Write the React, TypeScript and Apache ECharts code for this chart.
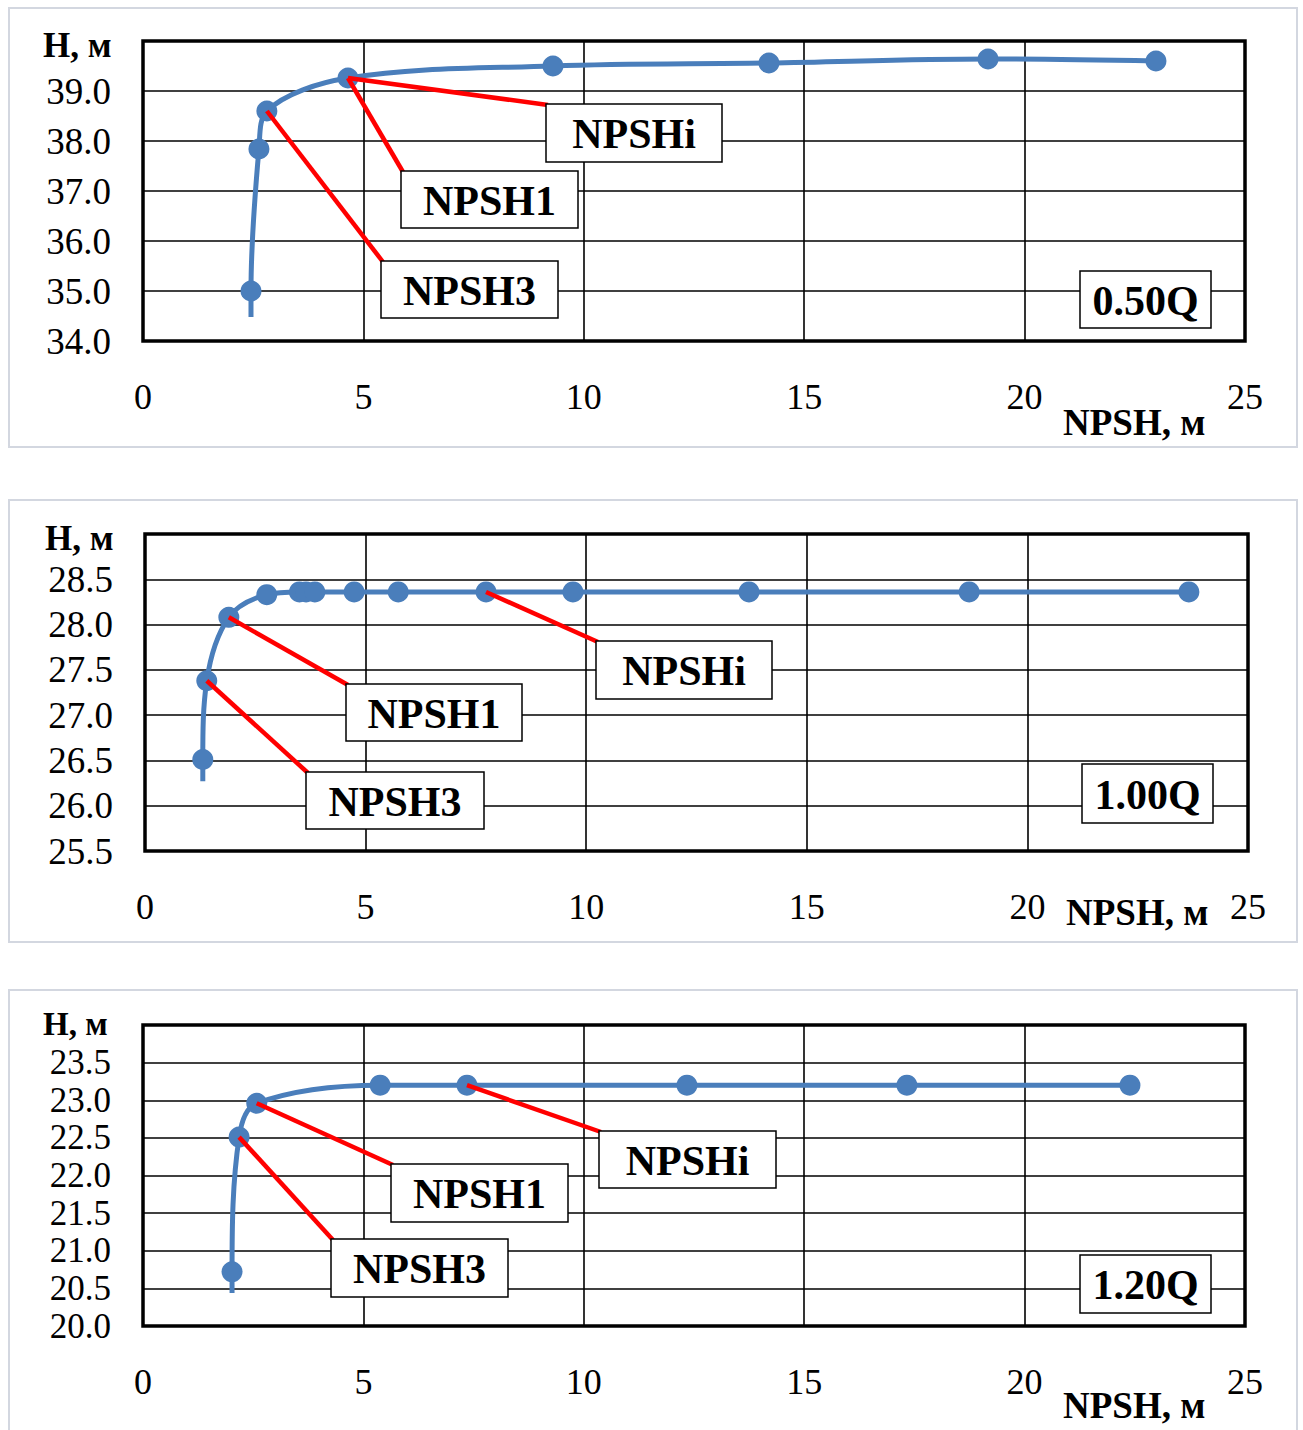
import React, { useEffect, useRef } from "react";
import * as echarts from "echarts";

// ---- data ----
const xTicks = [0, 5, 10, 15, 20, 25];

const q050X = [2.45, 2.45, 2.63, 2.81, 4.65, 9.3, 14.2, 19.17, 22.98];
const q050H = [34.48, 35.0, 37.84, 38.6, 39.26, 39.5, 39.56, 39.64, 39.6];

const q100X = [1.31, 1.31, 1.4, 1.9, 2.76, 3.5, 3.65, 3.85, 4.74, 5.74, 7.73, 9.7, 13.69, 18.68, 23.66];
const q100H = [26.27, 26.51, 27.38, 28.08, 28.33, 28.36, 28.36, 28.36, 28.36, 28.36, 28.36, 28.36, 28.36, 28.36, 28.36];

const q120X = [2.02, 2.02, 2.18, 2.58, 5.38, 7.35, 12.34, 17.33, 22.39];
const q120H = [20.44, 20.72, 22.51, 22.96, 23.2, 23.2, 23.2, 23.2, 23.2];

const flowLabels = ["0.50Q", "1.00Q", "1.20Q"];
const yMins = [34, 25.5, 20];
const yMaxs = [40, 29, 24];
const yIntervals = [1, 0.5, 0.5];

// annotation: which data point each label refers to (index into the arrays)
const annoLabels = ["NPSHi", "NPSH1", "NPSH3"];
const annoPointIdx = [
  [4, 4, 3],
  [10, 3, 2],
  [5, 3, 2],
];

// ---- layout ----
const FONT = "'Liberation Serif', 'Times New Roman', serif";
const grids = [
  { left: 143, top: 41, width: 1102, height: 300 },
  { left: 145, top: 534, width: 1103, height: 317 },
  { left: 143, top: 1025, width: 1102, height: 301 },
];
const frames = [
  [9, 8, 1288, 439],
  [9, 500, 1288, 442],
  [9, 990, 1288, 450],
];
// boxes [x, y, w, h] for NPSHi, NPSH1, NPSH3
const annoBoxes = [
  [[546, 104, 176, 58], [401, 171, 177, 57], [381, 261, 177, 57]],
  [[596, 641, 176, 58], [346, 684, 176, 57], [306, 772, 178, 57]],
  [[599, 1131, 177, 57], [391, 1164, 177, 58], [331, 1239, 177, 58]],
];
const flowBoxes = [
  [1080, 271, 131, 57],
  [1082, 764, 131, 59],
  [1080, 1255, 131, 58],
];
const hLabelPos = [[43, 45], [45, 538], [43, 1024]];
const npshLabelPos = [[1063, 422], [1066, 912], [1063, 1405]];

const BLUE = "#4a7ebb";

export default function App() {
  const ref = useRef<HTMLDivElement>(null);

  useEffect(() => {
    if (!ref.current) return;
    const chart = echarts.init(ref.current, null, { renderer: "svg" });

    const xs = [q050X, q100X, q120X];
    const hs = [q050H, q100H, q120H];

    const graphic: any[] = [];
    frames.forEach((f) => {
      graphic.push({
        type: "rect",
        shape: { x: f[0], y: f[1], width: f[2], height: f[3] },
        style: { fill: "none", stroke: "#d3d7e0", lineWidth: 2 },
        z: 1,
        silent: true,
      });
    });

    const boxText = (x: number, y: number, w: number, h: number, text: string, size: number) => {
      graphic.push({
        type: "rect",
        shape: { x, y, width: w, height: h },
        style: { fill: "#fff", stroke: "#000", lineWidth: 1.5 },
        z: 100,
        silent: true,
      });
      graphic.push({
        type: "text",
        x: x + w / 2,
        y: y + h / 2 + 1,
        style: {
          text,
          font: `bold ${size}px ${FONT}`,
          fill: "#000",
          textAlign: "center",
          textVerticalAlign: "middle",
          align: "center",
          verticalAlign: "middle",
        },
        z: 101,
        silent: true,
      });
    };

    const plainText = (x: number, y: number, text: string, size: number) => {
      graphic.push({
        type: "text",
        x,
        y,
        style: {
          text,
          font: `bold ${size}px ${FONT}`,
          fill: "#000",
          textAlign: "left",
          textVerticalAlign: "middle",
          align: "left",
          verticalAlign: "middle",
        },
        z: 101,
        silent: true,
      });
    };

    const series: any[] = [];
    for (let p = 0; p < 3; p++) {
      const data = xs[p].map((x, i) =>
        i === 0 ? { value: [x, hs[p][i]], symbol: "none" } : { value: [x, hs[p][i]] }
      );
      const mlData = annoLabels.map((_, k) => {
        const idx = annoPointIdx[p][k];
        const b = annoBoxes[p][k];
        return [{ coord: [xs[p][idx], hs[p][idx]] }, { x: b[0] + 2, y: b[1] + 1 }];
      });
      series.push({
        type: "line",
        xAxisIndex: p,
        yAxisIndex: p,
        data,
        smooth: 0.35,
        symbol: "circle",
        symbolSize: 21,
        showSymbol: true,
        lineStyle: { color: BLUE, width: 5 },
        itemStyle: { color: BLUE },
        z: 5,
        silent: true,
        markLine: {
          silent: true,
          symbol: ["none", "none"],
          label: { show: false },
          lineStyle: { color: "#ff0000", width: 4.5, type: "solid" },
          data: mlData,
          z: 6,
        },
      });

      annoLabels.forEach((lab, k) => {
        const b = annoBoxes[p][k];
        boxText(b[0], b[1], b[2], b[3], lab, 42);
      });
      const fb = flowBoxes[p];
      boxText(fb[0], fb[1], fb[2], fb[3], flowLabels[p], 42);
      plainText(hLabelPos[p][0], hLabelPos[p][1], "H, м", p === 2 ? 33 : 35);
      plainText(npshLabelPos[p][0], npshLabelPos[p][1], "NPSH, м", 37);
    }

    const option: any = {
      animation: false,
      backgroundColor: "#ffffff",
      grid: grids.map((g) => ({
        ...g,
        show: true,
        borderColor: "#000",
        borderWidth: 3.5,
        backgroundColor: "transparent",
        containLabel: false,
        outerBoundsMode: "none",
      })),
      xAxis: grids.map((_, p) => ({
        type: "value",
        gridIndex: p,
        min: xTicks[0],
        max: xTicks[xTicks.length - 1],
        interval: xTicks[1] - xTicks[0],
        axisLine: { show: false },
        axisTick: { show: false },
        splitLine: { show: true, lineStyle: { color: "#000", width: 1.6 } },
        axisLabel: {
          show: true,
          margin: 38,
          color: "#000",
          fontFamily: FONT,
          fontSize: 36,
          showMinLabel: true,
          showMaxLabel: true,
        },
      })),
      yAxis: grids.map((_, p) => ({
        type: "value",
        gridIndex: p,
        min: yMins[p],
        max: yMaxs[p],
        interval: yIntervals[p],
        axisLine: { show: false },
        axisTick: { show: false },
        splitLine: { show: true, lineStyle: { color: "#000", width: 1.6 } },
        axisLabel: {
          show: true,
          margin: 32,
          color: "#000",
          fontFamily: FONT,
          fontSize: p === 2 ? 35 : 37,
          showMinLabel: true,
          showMaxLabel: false,
          formatter: (v: number) => v.toFixed(1),
        },
      })),
      series,
      graphic: { elements: graphic },
    };

    chart.setOption(option);
    return () => chart.dispose();
  }, []);

  return (
    <div
      ref={ref}
      style={{ position: "absolute", left: 0, top: 0, width: 1303, height: 1430, background: "#fff" }}
    />
  );
}
